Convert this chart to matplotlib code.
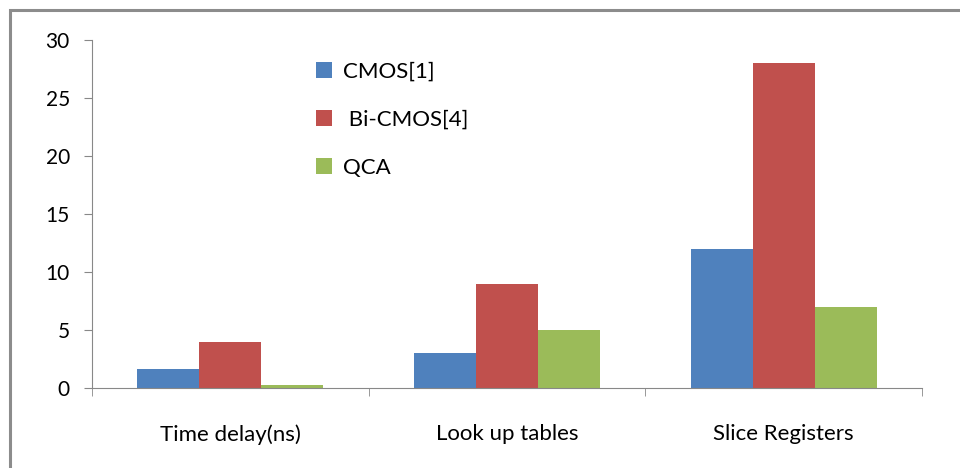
import matplotlib
matplotlib.use("Agg")
import matplotlib.pyplot as plt
import numpy as np
from matplotlib.patches import Rectangle
from matplotlib.ticker import FixedLocator, NullFormatter

categories = ["Time delay(ns)", "Look up tables", "Slice Registers"]
series_names = ["CMOS[1]", " Bi-CMOS[4]", "QCA"]
cmos = [1.6, 3.0, 12.0]
bicmos = [4.0, 9.0, 28.0]
qca = [0.3, 5.0, 7.0]
yticks = [0, 5, 10, 15, 20, 25, 30]
colors = ["#4F81BD", "#C0504D", "#9BBB59"]

plt.rcParams['font.family'] = ['Lato', 'DejaVu Sans']

fig = plt.figure(figsize=(9.6, 4.68), dpi=100)
fig.patches.append(Rectangle((10/960, -0.1), 1.2, 1 - 10/468 + 0.1,
                             transform=fig.transFigure, fill=False,
                             edgecolor="#8c8c8c", linewidth=2.2, zorder=0))
ax = fig.add_axes([92/960, 1 - 388/468, (922 - 92)/960, (388 - 40)/468])

x = np.arange(len(categories))
w = 0.224
for i, (vals, name) in enumerate(zip([cmos, bicmos, qca], series_names)):
    ax.bar(x + (i - 1) * w, vals, width=w, color=colors[i], label=name)

ax.set_xlim(-0.5, 2.5)
ax.set_ylim(0, 30)
ax.set_yticks(yticks)
ax.set_xticks(x)
ax.set_xticklabels(categories, fontsize=16)
ax.xaxis.set_minor_locator(FixedLocator([-0.5, 0.5, 1.5, 2.5]))
ax.xaxis.set_minor_formatter(NullFormatter())
ax.tick_params(axis='x', which='major', length=0, pad=26)
ax.tick_params(axis='x', which='minor', length=6, color="#888888")
ax.tick_params(axis='y', length=6, color="#888888", labelsize=15, pad=10)
for s in ["top", "right"]:
    ax.spines[s].set_visible(False)
for s in ["left", "bottom"]:
    ax.spines[s].set_color("#888888")

ax.legend(loc="upper left", bbox_to_anchor=((316 - 92)/830, 1 - 22/348, 0, 0),
          frameon=False, fontsize=16, labelspacing=1.25,
          handlelength=0.7, handleheight=0.7, handletextpad=0.5,
          borderaxespad=0, borderpad=0)

fig.savefig("out.png", dpi=100)
